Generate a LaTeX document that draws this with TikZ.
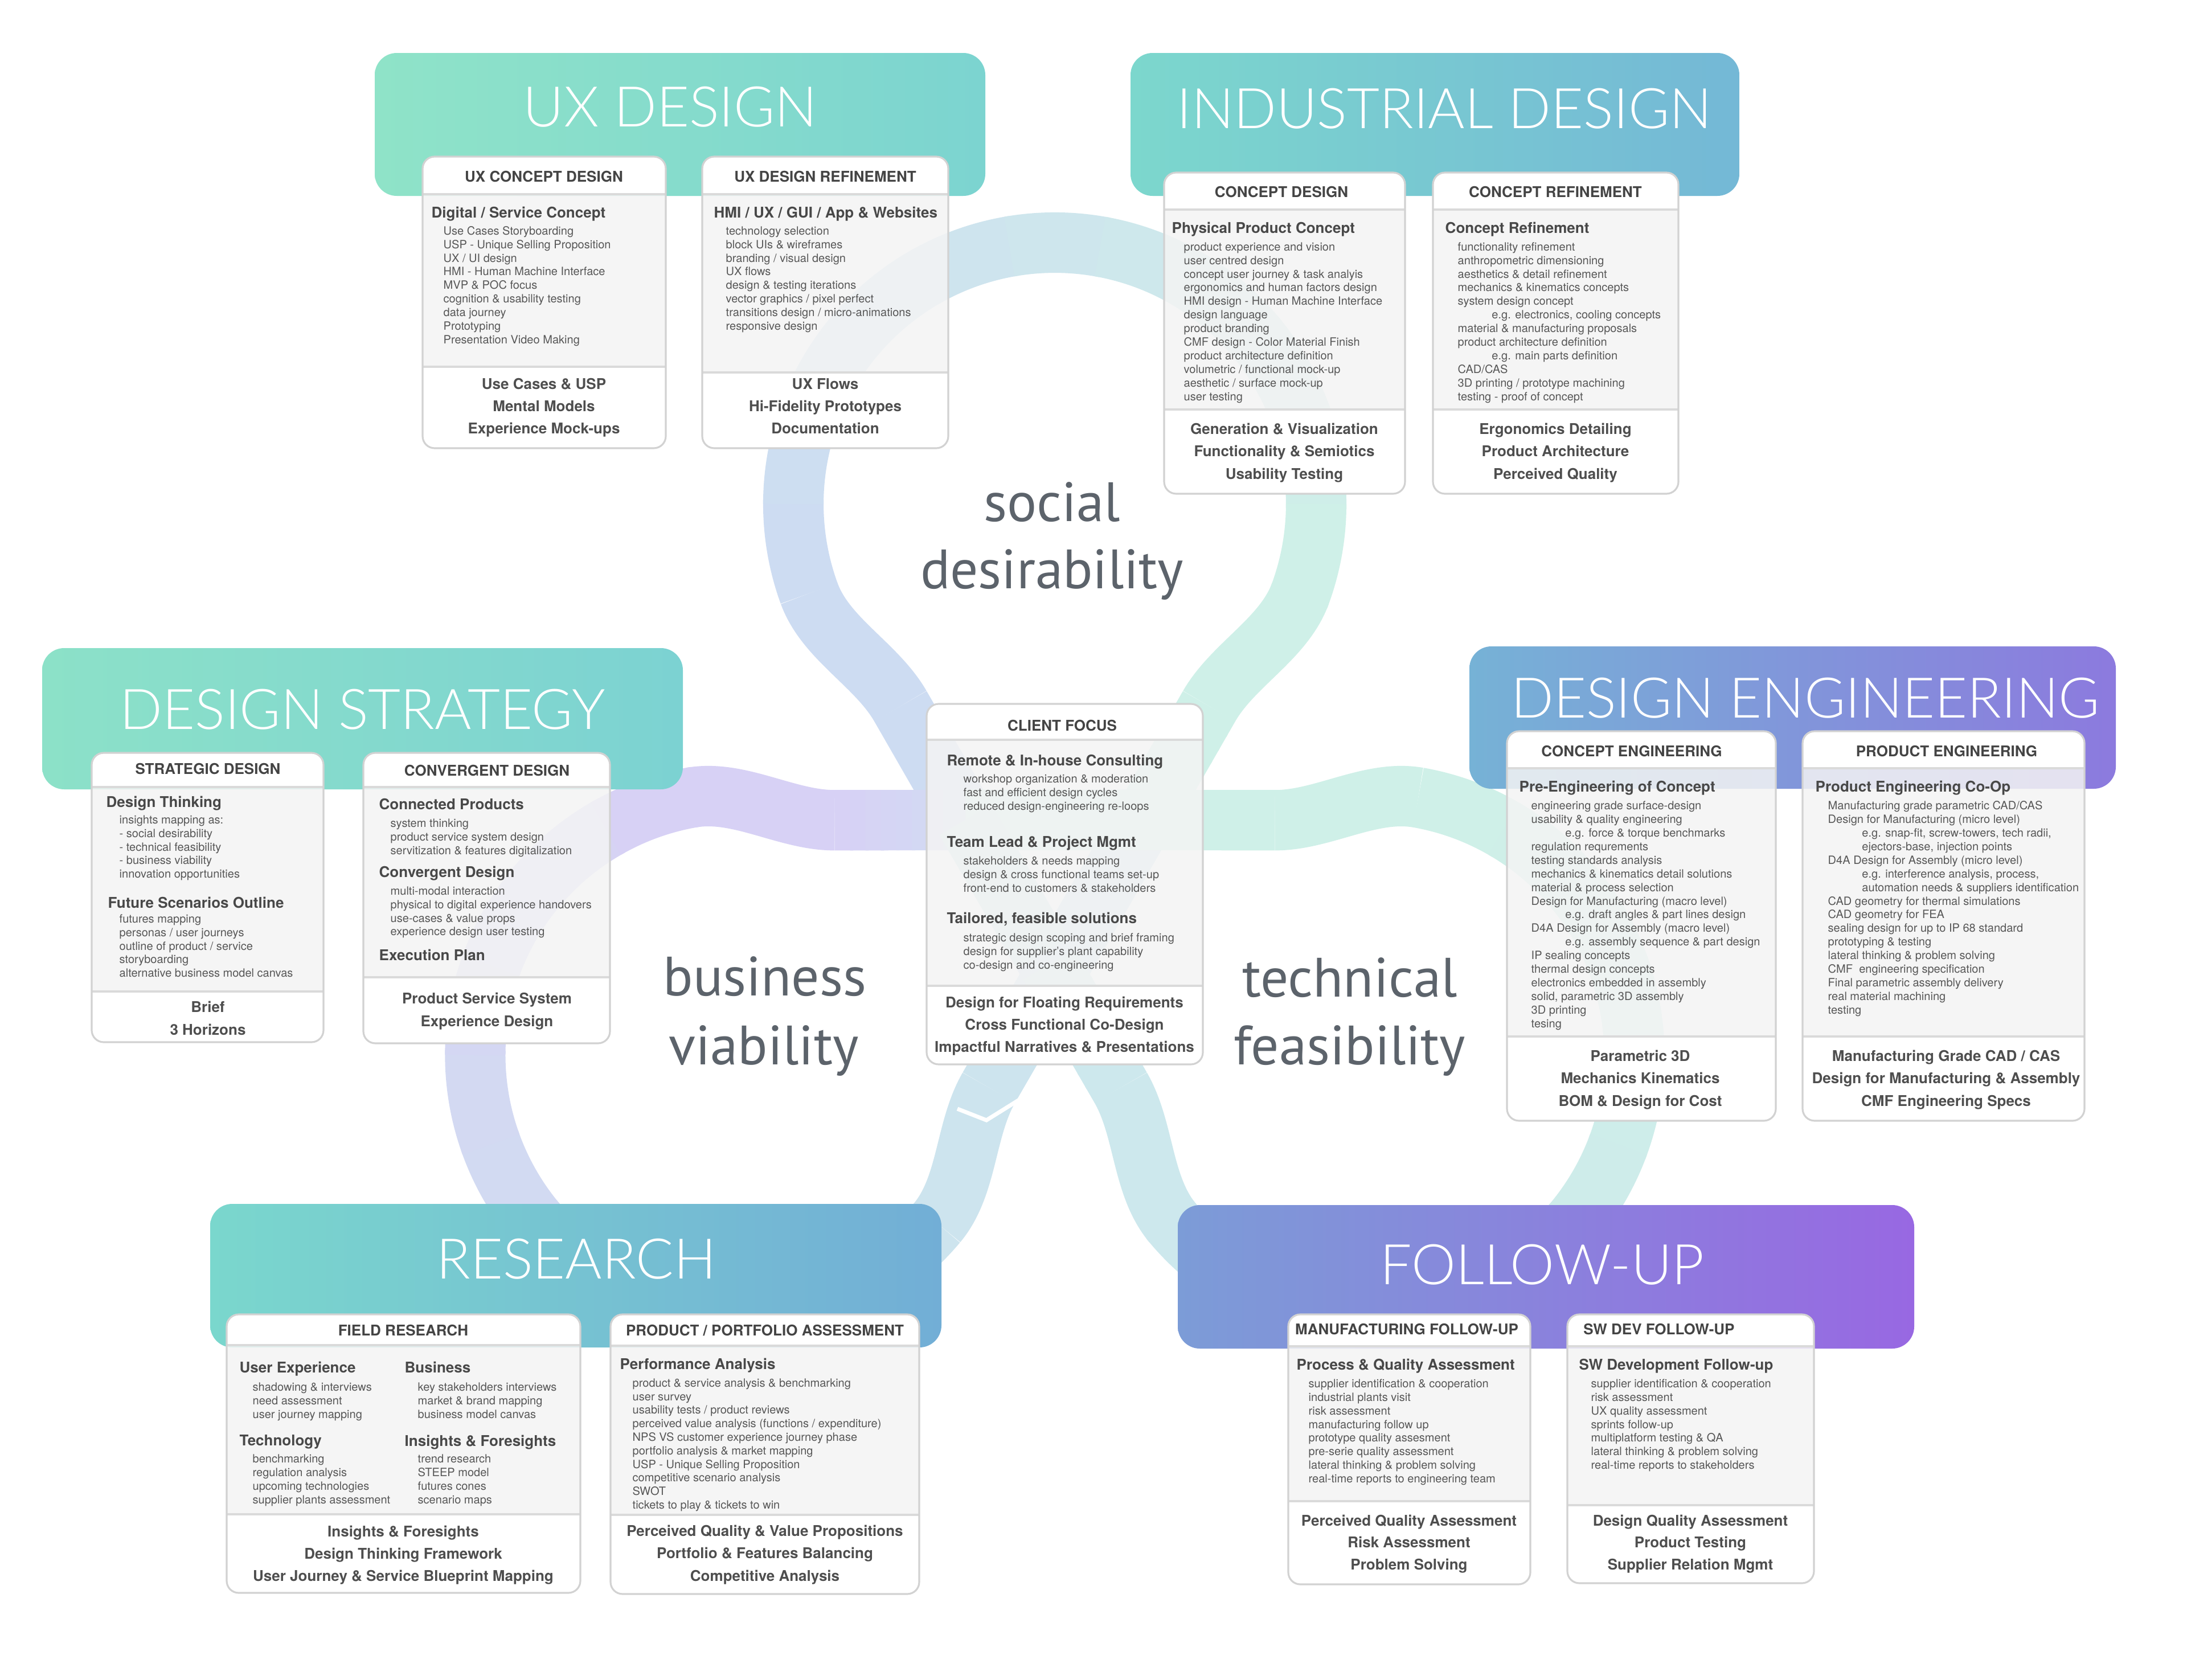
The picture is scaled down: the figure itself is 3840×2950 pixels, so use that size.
\documentclass[tikz,border=0pt]{standalone}
\usepackage{fontspec}
\usetikzlibrary{calc}
\setmainfont{TeX Gyre Heros}
\newfontfamily\bandfont{Lato Light}
\newfontfamily\pillarfont{PT Sans}

\definecolor{headgray}{RGB}{68,68,68}
\definecolor{titlegray}{RGB}{72,72,72}
\definecolor{itemgray}{RGB}{86,86,86}
\definecolor{footgray}{RGB}{78,78,78}
\definecolor{wordgray}{RGB}{92,99,107}
\definecolor{bodygray}{RGB}{244,244,244}
\definecolor{linegray}{RGB}{218,218,218}
\definecolor{edgegray}{RGB}{210,210,210}
\definecolor{uxl}{RGB}{143,227,200}
\definecolor{uxr}{RGB}{124,212,208}
\definecolor{idl}{RGB}{124,215,205}
\definecolor{idr}{RGB}{116,184,214}
\definecolor{dsl}{RGB}{140,225,200}
\definecolor{dsr}{RGB}{124,210,210}
\definecolor{del}{RGB}{118,178,214}
\definecolor{der}{RGB}{140,122,222}
\definecolor{rsl}{RGB}{122,215,205}
\definecolor{rsr}{RGB}{114,174,214}
\definecolor{ful}{RGB}{124,156,215}
\definecolor{fur}{RGB}{152,104,226}
\definecolor{rblue}{RGB}{205,220,242}
\definecolor{rmint}{RGB}{207,240,232}
\definecolor{rcyan}{RGB}{205,228,238}
\definecolor{rlav}{RGB}{215,209,245}
\definecolor{rperi}{RGB}{208,222,242}
\definecolor{rteal}{RGB}{205,232,237}

\newcommand{\egind}{\hspace*{17pt}}

\newcommand{\lobe}[7]{%
  \begin{scope}[rotate around={#1:(O)}]
    \draw[ribbon, #2] (1852,1711) -- (1581,1240);
    \draw[ribbon, #3] (1581,1240) .. controls (1538.5,1166.4) and (1449.8,1121.9) .. (1420.7,1042);
    \foreach \a in {160,180,...,360} {
      \pgfmathsetmacro\p{(\a-160)/2}
      \draw[ribbon, color=#5!\p!#4] (1852,885) ++(\a:459) arc[start angle=\a, delta angle=21, radius=459];
    }
    \draw[ribbon, #6] (2283.3,1042) .. controls (2254.2,1121.9) and (2165.5,1166.4) .. (2123,1240);
    \draw[ribbon, #7] ($(2123,1240)!0.5!(1852,1711)$) -- (1852,1711);
    \foreach \s in {0,0.05,...,0.45} {
      \pgfmathsetmacro\p{\s*200}
      \draw[ribbon, color=#7!\p!#6] ($(2123,1240)!\s!(1852,1711)$) -- ($(2123,1240)!\s+0.06!(1852,1711)$);
    }
  \end{scope}}

\newcommand{\card}[6]{%
  \begin{scope}
    \clip[rounded corners=6pt] (#1,#2) rectangle (#3,#4);
    \fill[white] (#1,#2) rectangle (#3,#5);
    \fill[bodygray, fill opacity=0.85] (#1,#5) rectangle (#3,#6);
    \fill[white] (#1,#6) rectangle (#3,#4);
  \end{scope}
  \draw[divider] (#1,#5) -- (#3,#5) (#1,#6) -- (#3,#6);
  \draw[cardedge] (#1,#2) rectangle (#3,#4);}

\newcommand{\itemlist}[5]{%
  \foreach \t [count=\i from 0] in {#5}
    \node[item] (#1-\i) at (#2,#3+\i*#4) {\t};}

\newcommand{\footlist}[5]{%
  \foreach \t [count=\i from 0] in {#5}
    \node[foot] (#1-\i) at (#2,#3+\i*#4) {\t};}

\tikzset{
  ribbon/.style={line width=30.2pt},
  band/.style={rounded corners=11pt},
  divider/.style={draw=linegray, line width=1.1pt},
  cardedge/.style={draw=edgegray, line width=0.9pt, rounded corners=6pt},
  bandtitle/.style={font=\bandfont\fontsize{28}{30}\selectfont, text=white, inner sep=0pt, text height=20pt, text depth=0pt},
  cardhead/.style={font=\bfseries\fontsize{7.4}{8}\selectfont, text=headgray, inner sep=0pt, text height=5.3pt, text depth=0pt},
  cardtitle/.style={font=\bfseries\fontsize{7.4}{8}\selectfont, text=titlegray, anchor=west, inner sep=0pt, text height=5.3pt, text depth=0pt},
  item/.style={font=\fontsize{5.7}{6}\selectfont, text=itemgray, anchor=west, inner sep=0pt, text height=4.1pt, text depth=0pt},
  foot/.style={font=\bfseries\fontsize{7.4}{8}\selectfont, text=footgray, inner sep=0pt, text height=5.3pt, text depth=0pt},
  pillar/.style={font=\pillarfont\fontsize{27.7}{30}\selectfont, text=wordgray, anchor=base, inner sep=0pt},
  seam/.style={draw=white, line width=2pt, line join=miter}
}

\begin{document}
\begin{tikzpicture}[x=0.1mm, y=-0.1mm]
  \useasboundingbox (0,0) rectangle (3840,2950);
  \fill[white] (0,0) rectangle (3840,2950);
  \coordinate (O) at (1852,1530);

  \lobe{0}{rblue}{rblue}{rblue}{rmint}{rmint}{rmint}
  \lobe{120}{rcyan}{rcyan}{rcyan}{rlav}{rlav}{rperi}
  \lobe{240}{rmint}{rmint}{rmint}{rteal}{rteal}{rteal}
  \draw[seam] (1681,1947) -- (1732,1967) -- (1793,1929);

  \shade[band, left color=uxl, right color=uxr] (658,93) rectangle (1730,344);
  \shade[band, left color=idl, right color=idr] (1985,93) rectangle (3054,344);
  \shade[band, left color=dsl, right color=dsr] (74,1138) rectangle (1199,1386);
  \shade[band, left color=del, right color=der] (2580,1135) rectangle (3715,1385);
  \shade[band, left color=rsl, right color=rsr] (369,2114) rectangle (1653,2366);
  \shade[band, left color=ful, right color=fur] (2068,2116) rectangle (3361,2368);

  \node[bandtitle] (uxt) at (1177,187) {UX DESIGN};
  \node[bandtitle] (idt) at (2536,190) {INDUSTRIAL DESIGN};
  \node[bandtitle] (dst) at (637,1245) {DESIGN STRATEGY};
  \node[bandtitle] (det) at (3170,1225) {DESIGN ENGINEERING};
  \node[bandtitle] (rst) at (1012,2210) {RESEARCH};
  \node[bandtitle] (fut) at (2708,2220) {FOLLOW-UP};

  \card{742}{275}{1169}{787}{341}{644}
  \node[cardhead] (ucd) at (955,310) {UX CONCEPT DESIGN};
  \node[cardtitle] (ucd-t) at (757,373) {Digital / Service Concept};
  \itemlist{ucd}{778}{405}{23.9}{Use Cases Storyboarding, USP - Unique Selling Proposition, UX / UI design, HMI - Human Machine Interface, MVP \& POC focus, cognition \& usability testing, data journey, Prototyping, Presentation Video Making}
  \footlist{ucdf}{955}{674}{39}{Use Cases \& USP, Mental Models, Experience Mock-ups}

  \card{1233}{275}{1665}{787}{341}{654}
  \node[cardhead] (udr) at (1449,310) {UX DESIGN REFINEMENT};
  \node[cardtitle] (udr-t) at (1253,373) {HMI / UX / GUI / App \& Websites};
  \itemlist{udr}{1274}{405}{23.9}{technology selection, block UIs \& wireframes, branding / visual design, UX flows, design \& testing iterations, vector graphics / pixel perfect, transitions design / micro-animations, responsive design}
  \footlist{udrf}{1449}{674}{39}{UX Flows, Hi-Fidelity Prototypes, Documentation}

  \card{2044}{303}{2467}{867}{368}{719}
  \node[cardhead] (cd) at (2250,337) {CONCEPT DESIGN};
  \node[cardtitle] (cd-t) at (2057,400) {Physical Product Concept};
  \itemlist{cd}{2078}{433}{23.9}{product experience and vision, user centred design, concept user journey \& task analyis, ergonomics and human factors design, HMI design - Human Machine Interface, design language, product branding, CMF design - Color Material Finish, product architecture definition, volumetric / functional mock-up, aesthetic / surface mock-up, user testing}
  \footlist{cdf}{2255}{753}{39.5}{Generation \& Visualization, Functionality \& Semiotics, Usability Testing}

  \card{2516}{303}{2947}{867}{368}{719}
  \node[cardhead] (cr) at (2731,337) {CONCEPT REFINEMENT};
  \node[cardtitle] (cr-t) at (2537,400) {Concept Refinement};
  \itemlist{cr}{2559}{433}{23.9}{functionality refinement, anthropometric dimensioning, aesthetics \& detail refinement, mechanics \& kinematics concepts, system design concept, {\egind e.g. electronics, cooling concepts}, material \& manufacturing proposals, product architecture definition, \egind e.g. main parts definition, CAD/CAS, 3D printing / prototype machining, testing - proof of concept}
  \footlist{crf}{2731}{753}{39.5}{Ergonomics Detailing, Product Architecture, Perceived Quality}

  \card{161}{1322}{568}{1830}{1382}{1741}
  \node[cardhead] (sd) at (365,1350) {STRATEGIC DESIGN};
  \node[cardtitle] (sd-t) at (186,1408) {Design Thinking};
  \itemlist{sda}{209}{1439}{23.9}{insights mapping as:, - social desirability, - technical feasibility, - business viability, innovation opportunities}
  \node[cardtitle] (sd-u) at (189,1585) {Future Scenarios Outline};
  \itemlist{sdb}{209}{1613}{23.9}{futures mapping, personas / user journeys, outline of product / service, storyboarding, alternative business model canvas}
  \footlist{sdf}{365}{1768}{40}{Brief, 3 Horizons}

  \card{638}{1322}{1071}{1832}{1382}{1716}
  \node[cardhead] (cv) at (855,1353) {CONVERGENT DESIGN};
  \node[cardtitle] (cv-t) at (665,1412) {Connected Products};
  \itemlist{cva}{685}{1445}{23.9}{system thinking, product service system design, servitization \& features digitalization}
  \node[cardtitle] (cv-u) at (665,1531) {Convergent Design};
  \itemlist{cvb}{685}{1564}{23.9}{multi-modal interaction, physical to digital experience handovers, use-cases \& value props, experience design user testing}
  \node[cardtitle] (cv-v) at (665,1677) {Execution Plan};
  \footlist{cvf}{855}{1753}{40}{Product Service System, Experience Design}

  \card{1627}{1236}{2112}{1869}{1299}{1731}
  \node[cardhead] (cf) at (1865,1274) {CLIENT FOCUS};
  \node[cardtitle] (cf-t) at (1662,1335) {Remote \& In-house Consulting};
  \itemlist{cfa}{1691}{1367.5}{24}{workshop organization \& moderation, fast and efficient design cycles, reduced design-engineering re-loops}
  \node[cardtitle] (cf-u) at (1662,1478) {Team Lead \& Project Mgmt};
  \itemlist{cfb}{1691}{1511}{24}{stakeholders \& needs mapping, design \& cross functional teams set-up, front-end to customers \& stakeholders}
  \node[cardtitle] (cf-v) at (1662,1612.5) {Tailored, feasible solutions};
  \itemlist{cfc}{1691}{1646}{24}{strategic design scoping and brief framing, design for supplier’s plant capability, co-design and co-engineering}
  \footlist{cff}{1869}{1760}{39}{Design for Floating Requirements, Cross Functional Co-Design, Impactful Narratives \& Presentations}

  \card{2646}{1284}{3118}{1968}{1349}{1820}
  \node[cardhead] (ce) at (2865,1319) {CONCEPT ENGINEERING};
  \node[cardtitle] (ce-t) at (2667,1381) {Pre-Engineering of Concept};
  \itemlist{ce}{2688}{1414.5}{23.9}{engineering grade surface-design, usability \& quality engineering, \egind e.g. force \& torque benchmarks, regulation requrements, testing standards analysis, mechanics \& kinematics detail solutions, material \& process selection, Design for Manufacturing (macro level), \egind e.g. draft angles \& part lines design, D4A Design for Assembly (macro level), \egind e.g. assembly sequence \& part design, IP sealing concepts, thermal design concepts, electronics embedded in assembly, {solid, parametric 3D assembly}, 3D printing, tesing}
  \footlist{cef}{2880}{1854}{39.5}{Parametric 3D, Mechanics Kinematics, BOM \& Design for Cost}

  \card{3165}{1284}{3660}{1968}{1349}{1820}
  \node[cardhead] (pe) at (3418,1319) {PRODUCT ENGINEERING};
  \node[cardtitle] (pe-t) at (3187,1381) {Product Engineering Co-Op};
  \itemlist{pe}{3209}{1414.5}{23.9}{Manufacturing grade parametric CAD/CAS, Design for Manufacturing (micro level), {\egind e.g. snap-fit, screw-towers, tech radii,}, {\egind ejectors-base, injection points}, D4A Design for Assembly (micro level), {\egind e.g. interference analysis, process,}, \egind automation needs \& suppliers identification, CAD geometry for thermal simulations, CAD geometry for FEA, sealing design for up to IP 68 standard, prototyping \& testing, lateral thinking \& problem solving, CMF\ \ engineering specification, Final parametric assembly delivery, real material machining, testing}
  \footlist{pef}{3417}{1854}{39.5}{Manufacturing Grade CAD / CAS, Design for Manufacturing \& Assembly, CMF Engineering Specs}

  \card{398}{2308}{1019}{2797}{2362}{2659}
  \node[cardhead] (fr) at (708,2336) {FIELD RESEARCH};
  \node[cardtitle] (fr-t) at (420,2401) {User Experience};
  \itemlist{fra}{443}{2435}{24.2}{shadowing \& interviews, need assessment, user journey mapping}
  \node[cardtitle] (fr-u) at (710,2401) {Business};
  \itemlist{frb}{733}{2435}{24.2}{key stakeholders interviews, market \& brand mapping, business model canvas}
  \node[cardtitle] (fr-v) at (420,2529) {Technology};
  \itemlist{frc}{443}{2561}{24.2}{benchmarking, regulation analysis, upcoming technologies, supplier plants assessment}
  \node[cardtitle] (fr-w) at (710,2530) {Insights \& Foresights};
  \itemlist{frd}{733}{2561}{24.2}{trend research, STEEP model, futures cones, scenario maps}
  \footlist{frf}{708}{2689}{39}{Insights \& Foresights, Design Thinking Framework, User Journey \& Service Blueprint Mapping}

  \card{1072}{2308}{1614}{2799}{2363}{2660}
  \node[cardhead] (pa) at (1343,2336) {PRODUCT / PORTFOLIO ASSESSMENT};
  \node[cardtitle] (pa-t) at (1088,2395) {Performance Analysis};
  \itemlist{pa}{1110}{2428}{23.8}{product \& service analysis \& benchmarking, user survey, usability tests / product reviews, perceived value analysis (functions / expenditure), NPS VS customer experience journey phase, portfolio analysis \& market mapping, USP - Unique Selling Proposition, competitive scenario analysis, SWOT, tickets to play \& tickets to win}
  \footlist{paf}{1343}{2688}{39.5}{Perceived Quality \& Value Propositions, Portfolio \& Features Balancing, Competitive Analysis}

  \card{2262}{2308}{2687}{2782}{2364}{2636}
  \node[cardhead] (mf) at (2470,2334) {MANUFACTURING FOLLOW-UP};
  \node[cardtitle] (mf-t) at (2276,2396) {Process \& Quality Assessment};
  \itemlist{mf}{2297}{2429.4}{23.8}{supplier identification \& cooperation, industrial plants visit, risk assessment, manufacturing follow up, prototype quality assesment, pre-serie quality assessment, lateral thinking \& problem solving, real-time reports to engineering team}
  \footlist{mff}{2474}{2670}{38.5}{Perceived Quality Assessment, Risk Assessment, Problem Solving}

  \card{2752}{2308}{3185}{2780}{2364}{2643}
  \node[cardhead] (sw) at (2913,2334) {SW DEV FOLLOW-UP};
  \node[cardtitle] (sw-t) at (2772,2396) {SW Development Follow-up};
  \itemlist{sw}{2793}{2429.4}{23.8}{supplier identification \& cooperation, risk assessment, UX quality assessment, sprints follow-up, multiplatform testing \& QA, lateral thinking \& problem solving, real-time reports to stakeholders}
  \footlist{swf}{2968}{2670}{38.5}{Design Quality Assessment, Product Testing, Supplier Relation Mgmt}

  \node[pillar] (soc) at (1847,915) {social};
  \node[pillar] (des) at (1847,1033) {desirability};
  \node[pillar] (bus) at (1343,1748) {business};
  \node[pillar] (via) at (1341,1869) {viability};
  \node[pillar] (tec) at (2370,1750) {technical};
  \node[pillar] (fea) at (2370,1869) {feasibility};
\end{tikzpicture}
\end{document}
